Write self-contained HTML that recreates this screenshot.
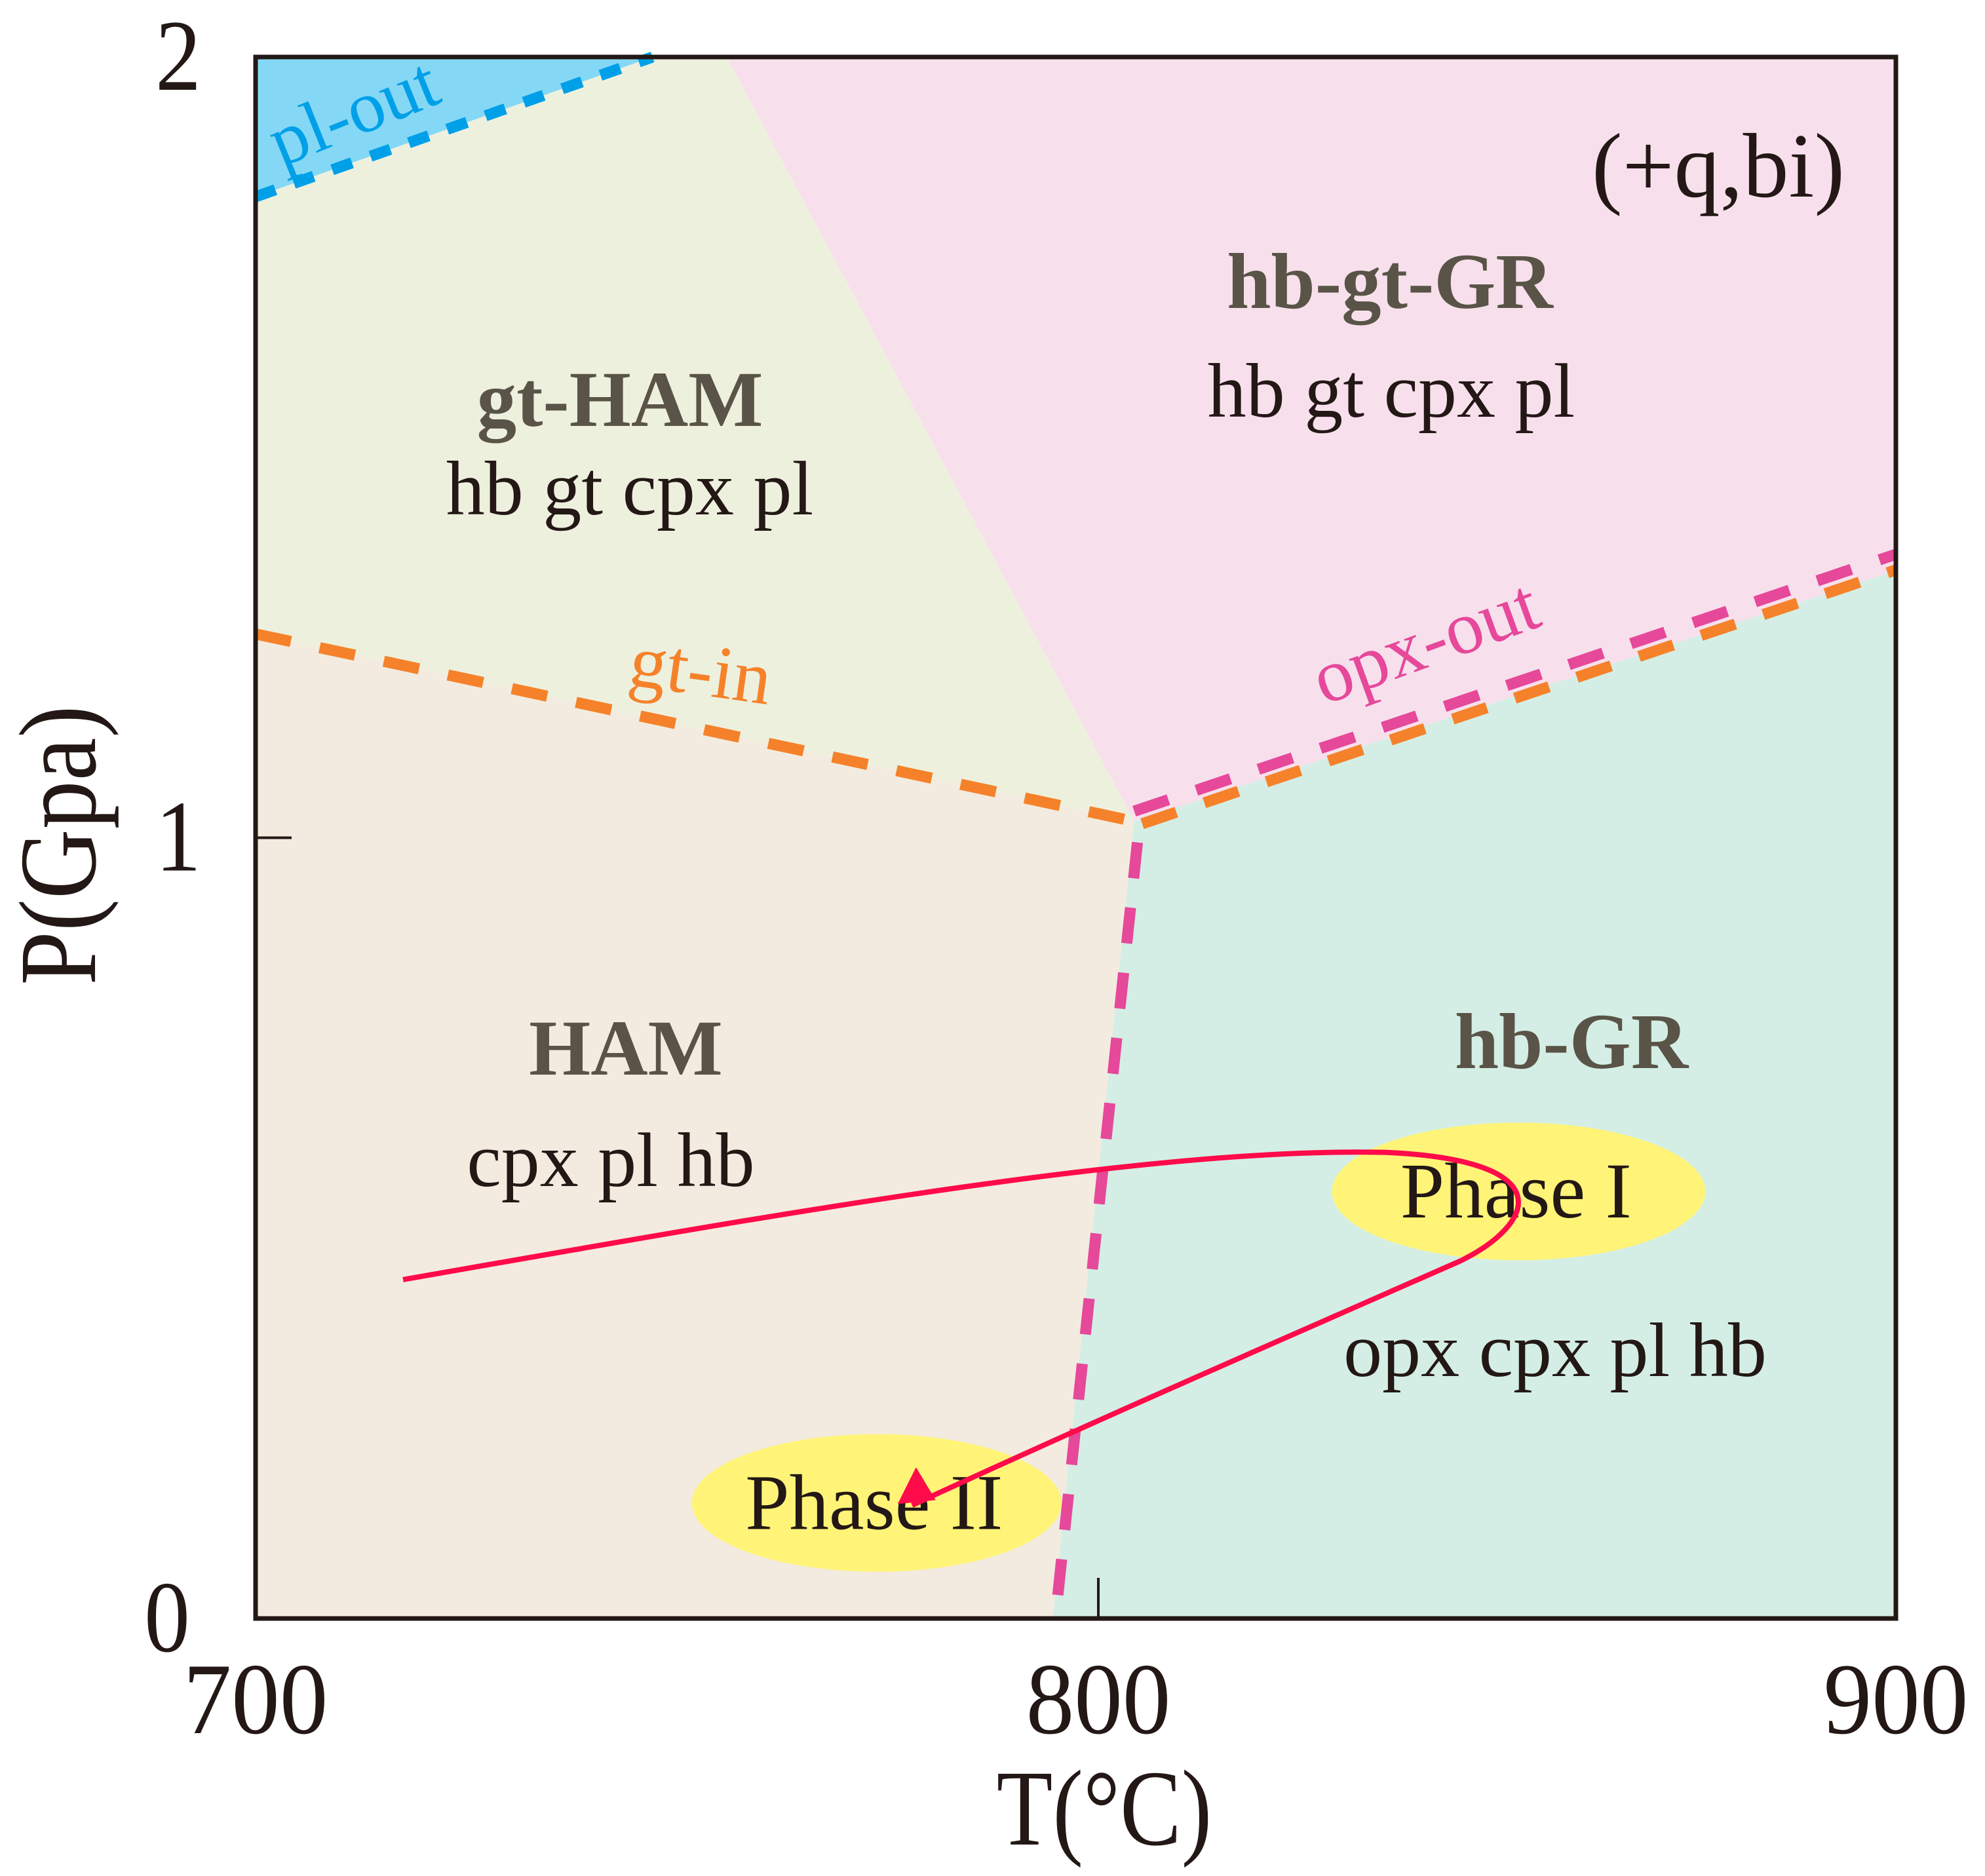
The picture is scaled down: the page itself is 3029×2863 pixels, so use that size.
<!DOCTYPE html>
<html><head><meta charset="utf-8"><style>
html,body{margin:0;padding:0;background:#fff;}
svg{display:block;font-family:"Liberation Serif",serif;}
</style></head><body>
<svg id="chart" width="3029" height="2863" viewBox="0 0 3029 2863" xmlns="http://www.w3.org/2000/svg">
<g id="regions"></g>
<g id="lines"></g>
<g id="marks"></g>
<g id="axes"></g>
<g id="labels"></g>
</svg>
<script>
const xTicks = [700, 800, 900];
const yTicks = [0, 1, 2];
const junction = [804.5, 1.021];
const plOut = [[700, 1.821], [747.1, 2]];
const gtBoundaryTop = [755.9, 2];
const gtIn = [[700, 1.261], [804.5, 1.021]];
const opxOut = [[804.5, 1.034], [900, 1.363]];
const opxOutOrange = [[805.5, 1.018], [900, 1.343]];
const tealEdge = [900, 1.342];
const opxVertical = [[804.9, 0.994], [794.9, 0]];
const vertBottom = [794.6, 0];
const phaseCenters = [[852.7, 0.547], [773.7, 0.148]];
const phaseNames = ["Phase I", "Phase II"];
const ptPath = [[717.5,0.434],[760.4,0.515],[806.1,0.604],[836.0,0.597],[858.1,0.587],[854.9,0.506],[845.4,0.458],[821.8,0.352],[798.3,0.247],[777.9,0.145]];

const L=390,R=2893,T0=87,B=2470, X800=1676;
function sx(t){return t<=800 ? L+(t-700)*(X800-L)/100 : X800+(t-800)*(R-X800)/100;}
function sy(p){return B-p*(B-T0)/2;}
const NS="http://www.w3.org/2000/svg";
function mk(tag,parent,attrs){const e=document.createElementNS(NS,tag);for(const k in attrs)e.setAttribute(k,attrs[k]);document.getElementById(parent).appendChild(e);return e;}
function pts(a){return a.map(d=>sx(d[0])+","+sy(d[1])).join(" ");}

let e;
e=mk("polygon","regions",{points:pts([[700,0],[vertBottom[0],0],junction,gtIn[0]]),fill:"#f3ebdf"});


e=mk("polygon","regions",{points:pts([gtIn[0],junction,gtBoundaryTop,plOut[1],plOut[0]]),fill:"#eef0de"});


e=mk("polygon","regions",{points:pts([gtBoundaryTop,[900,2],tealEdge,junction]),fill:"#f7e0ec"});


e=mk("polygon","regions",{points:pts([junction,tealEdge,[900,0],[vertBottom[0],0]]),fill:"#d4eee5"});


e=mk("polygon","regions",{points:pts([[700,2],plOut[1],plOut[0]]),fill:"#85d8f5"});



function dline(parent,a,color,w,dash){return mk("line",parent,{x1:sx(a[0][0]),y1:sy(a[0][1]),x2:sx(a[1][0]),y2:sy(a[1][1]),stroke:color,"stroke-width":w,"stroke-dasharray":dash});}
e=dline("lines",plOut,"#00a0e9",17,"32 30");


e=dline("lines",gtIn,"#f5822a",17,"55 45");


e=dline("lines",opxOutOrange,"#f5822a",17,"55 45");


e=dline("lines",opxOut,"#e6489a",17,"55 45");


e=dline("lines",opxVertical,"#e6489a",17,"55 45");



phaseCenters.forEach((c,i)=>{
  const el=mk("ellipse","marks",{cx:sx(c[0]),cy:sy(c[1]),rx:i==0?285:282,ry:105,fill:"#fff478"});
  
  
  const t=mk("text","marks",{x:sx(c[0])-4,y:sy(c[1])+40,"font-size":121,"text-anchor":"middle",fill:"#231815"});
  t.textContent=phaseNames[i];
  
  
});
const P=ptPath.map(d=>[sx(d[0]),sy(d[1])]);
let d="M"+P[0];
for(let i=1;i<P.length;i+=3)d+=" C"+P[i]+" "+P[i+1]+" "+P[i+2];
e=mk("path","marks",{d:d,fill:"none",stroke:"#ff0a4a","stroke-width":8});


const end=P[P.length-1];
e=mk("polygon","marks",{points:`${end[0]-22},${end[1]-2} ${end[0]+6},${end[1]-58} ${end[0]+36},${end[1]-8}`,fill:"#ff0a4a"});



e=mk("rect","axes",{x:L,y:T0,width:R-L,height:B-T0,fill:"none",stroke:"#231815","stroke-width":7});


e=mk("line","axes",{x1:L,y1:sy(1),x2:L+55,y2:sy(1),stroke:"#231815","stroke-width":4});


e=mk("line","axes",{x1:sx(800),y1:B,x2:sx(800),y2:B-62,stroke:"#231815","stroke-width":4});


xTicks.forEach(v=>{
  const t=mk("text","axes",{x:0,y:0,"font-size":155,"text-anchor":"middle",fill:"#231815",transform:`translate(${sx(v)},${B+175}) scale(0.95,1)`});
  t.textContent=v;
  
  
});
yTicks.forEach(v=>{
  const t=mk("text","axes",{x:0,y:0,"font-size":155,"text-anchor":"middle",fill:"#231815",transform:`translate(${v==0?255:272},${sy(v)+50}) scale(0.9,1)`});
  t.textContent=v;
  
  
});
</script>
<script>
function lab(txt,x,y,size,opts){
  const t=document.createElementNS("http://www.w3.org/2000/svg","text");
  t.setAttribute("x",0);t.setAttribute("y",0);
  t.setAttribute("font-size",size);t.setAttribute("text-anchor","middle");
  t.setAttribute("fill",opts.fill||"#231815");
  if(opts.bold)t.setAttribute("font-weight","bold");
  t.setAttribute("transform",`translate(${x},${y}) rotate(${opts.rot||0}) scale(${opts.sx||1},1)`);
  t.textContent=txt;
  document.getElementById("labels").appendChild(t);
  return t;
}
let t;
t=lab("T(°C)",1685,2815,165,{sx:0.85});


t=lab("P(Gpa)",145,1290,168,{rot:-90,sx:0.88});


t=lab("(+q,bi)",2622,300,140,{});


t=lab("hb-gt-GR",2121,470,121,{bold:true,fill:"#595447"});


t=lab("hb gt cpx pl",2123,636,118,{});


t=lab("gt-HAM",946,650,121,{bold:true,fill:"#595447"});


t=lab("hb gt cpx pl",961,785,118,{});


t=lab("gt-in",1064,1060,115,{rot:8,fill:"#f5822a"});


t=lab("opx-out",2188,1015,115,{rot:-20,fill:"#e6489a"});


t=lab("pl-out",553,205,112,{rot:-22,fill:"#00a0e9"});


t=lab("HAM",955,1640,121,{bold:true,fill:"#595447"});


t=lab("cpx pl hb",932,1810,118,{});


t=lab("hb-GR",2398,1630,121,{bold:true,fill:"#595447"});


t=lab("opx cpx pl hb",2373,2100,118,{});


</script>
</body></html>
